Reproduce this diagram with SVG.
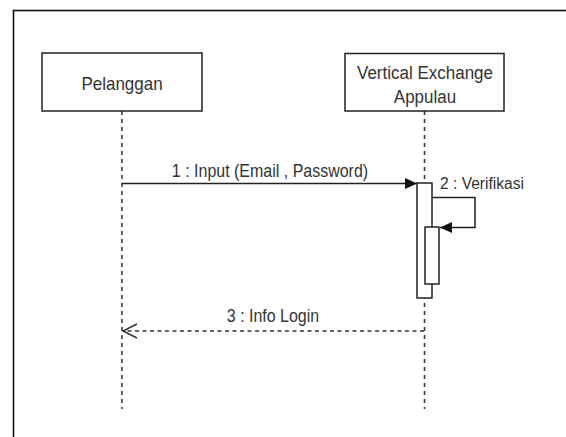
<svg xmlns="http://www.w3.org/2000/svg" width="566" height="437" viewBox="0 0 566 437">
  <style>
    .frame { fill: none; stroke: #111; stroke-width: 1.6; }
    .box { fill: #fff; stroke: #222; stroke-width: 1.5; }
    .life { fill: none; stroke: #333; stroke-width: 1.5; stroke-dasharray: 4 4; }
    .msg { fill: none; stroke: #222; stroke-width: 1.5; }
    .ret { fill: none; stroke: #333; stroke-width: 1.4; stroke-dasharray: 4 3.5; }
    .lbl { font-family: "Liberation Sans", Arial, sans-serif; fill: #333; text-anchor: middle; }
    .act { fill: #fff; stroke: #222; stroke-width: 1.5; }
  </style>
  <defs>
    <marker id="filled" markerUnits="userSpaceOnUse" markerWidth="14" markerHeight="12" refX="12" refY="6" orient="auto">
      <path d="M0,0.5 L12,6 L0,11.5 Z" fill="#111"/>
    </marker>
    <marker id="open" markerUnits="userSpaceOnUse" markerWidth="18" markerHeight="18" refX="15" refY="8" orient="auto">
      <path d="M1,1 L15,8 L1,15" fill="none" stroke="#333" stroke-width="1.5"/>
    </marker>
  </defs>

  <rect class="frame" x="13.5" y="10.5" width="600" height="500"/>

  <!-- lifelines -->
  <g id="lifelines">
    <line class="life" x1="122" y1="111" x2="122" y2="409"/>
    <line class="life" x1="424.5" y1="111" x2="424.5" y2="409"/>
  </g>

  <g id="pelanggan">
    <rect class="box" x="42" y="53" width="160" height="58"/>
    <text class="lbl" font-size="17" transform="translate(122,90) scale(1,1.1)">Pelanggan</text>
  </g>

  <g id="vertical-exchange">
    <rect class="box" x="345" y="53.5" width="159" height="57.5"/>
    <text class="lbl" font-size="17" transform="translate(425,79) scale(1,1.12)">Vertical Exchange</text>
    <text class="lbl" font-size="17" transform="translate(425,103) scale(1,1.12)">Appulau</text>
  </g>

  <g id="activation">
    <rect class="act" x="417" y="183" width="15" height="115"/>
    <rect class="act" x="425" y="227" width="14" height="57"/>
  </g>

  <g id="connectors">
    <line class="msg" x1="122" y1="183.5" x2="417" y2="183.5" marker-end="url(#filled)"/>
    <polyline class="msg" points="432,197.5 475,197.5 475,227.5 440,227.5" marker-end="url(#filled)"/>
    <line class="ret" x1="424" y1="331" x2="123" y2="331" marker-end="url(#open)"/>
  </g>

  <g id="labels">
    <text class="lbl" font-size="16" transform="translate(270,177) scale(1,1.1)">1 : Input (Email , Password)</text>
    <text class="lbl" font-size="15.6" text-anchor="start" style="text-anchor:start" transform="translate(440,189) scale(1,1.08)">2 : Verifikasi</text>
    <text class="lbl" font-size="16" transform="translate(273,322) scale(1,1.1)">3 : Info Login</text>
  </g>
</svg>
